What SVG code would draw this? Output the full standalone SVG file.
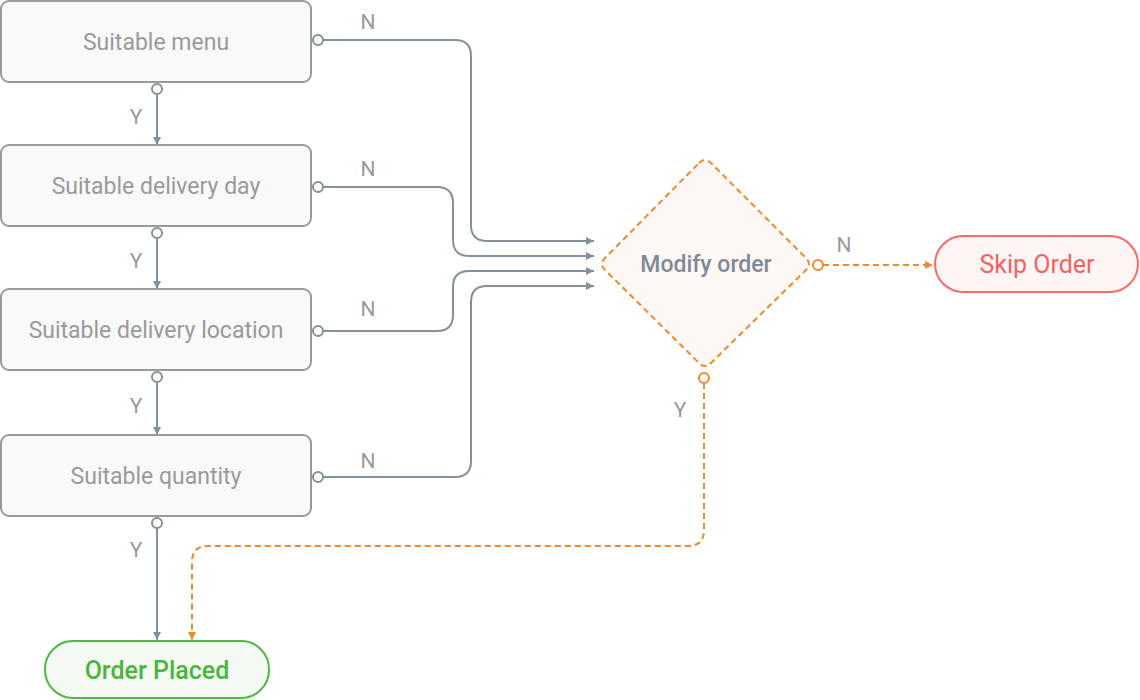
<svg xmlns="http://www.w3.org/2000/svg" width="1140" height="700" viewBox="0 0 1140 700">
<defs>
<marker id="ag" viewBox="0 0 10 10" refX="10" refY="5" markerWidth="8" markerHeight="8" markerUnits="userSpaceOnUse" orient="auto"><path d="M0,0 L10,5 L0,10 z" fill="#85909a"/></marker>
<marker id="ao" viewBox="0 0 10 10" refX="10" refY="5" markerWidth="8" markerHeight="8" markerUnits="userSpaceOnUse" orient="auto"><path d="M0,0 L10,5 L0,10 z" fill="#f0892a"/></marker>
</defs>
<style>
.box{fill:#f9f9f9;stroke:#999;stroke-width:2}
.bt{font-family:Roboto,"Liberation Sans",sans-serif;font-size:23px;font-weight:400;fill:#9a9a9a;text-anchor:middle;dominant-baseline:central}
.lbl{font-family:Roboto,"Liberation Sans",sans-serif;font-size:21px;font-weight:400;fill:#999;text-anchor:middle;dominant-baseline:central}
.c{fill:none;stroke:#85909a;stroke-width:2}
.o{fill:none;stroke:#f0892a;stroke-width:2;stroke-dasharray:6 4}
.pg{fill:#fff;stroke:#85909a;stroke-width:2}
.po{fill:#fff;stroke:#f0892a;stroke-width:2}
</style>
<g id="connectors">
<path class="c" d="M323,40 H455 Q471,40 471,56 V225 Q471,241 487,241 H594" marker-end="url(#ag)"/>
<path class="c" d="M323,187 H437 Q453,187 453,203 V240 Q453,256 469,256 H594" marker-end="url(#ag)"/>
<path class="c" d="M323,331 H437 Q453,331 453,315 V287 Q453,271 469,271 H594" marker-end="url(#ag)"/>
<path class="c" d="M323,477 H455 Q471,477 471,461 V302 Q471,286 487,286 H594" marker-end="url(#ag)"/>
<path class="c" d="M157,94 V145" marker-end="url(#ag)"/>
<path class="c" d="M157,238 V289" marker-end="url(#ag)"/>
<path class="c" d="M157,382 V435" marker-end="url(#ag)"/>
<path class="c" d="M157,528 V640" marker-end="url(#ag)"/>
<path class="o" d="M823,265 H933" marker-end="url(#ao)"/>
<path class="o" d="M704,383 V530 Q704,546 688,546 H208 Q192,546 192,562 V640" marker-end="url(#ao)"/>
<circle class="pg" cx="318" cy="40" r="5"/>
<circle class="pg" cx="318" cy="187" r="5"/>
<circle class="pg" cx="318" cy="331" r="5"/>
<circle class="pg" cx="318" cy="477" r="5"/>
<circle class="pg" cx="157" cy="89" r="5"/>
<circle class="pg" cx="157" cy="233" r="5"/>
<circle class="pg" cx="157" cy="377" r="5"/>
<circle class="pg" cx="157" cy="523" r="5"/>
<circle class="po" cx="818" cy="265" r="5"/>
<circle class="po" cx="704" cy="378" r="5"/>
<text class="lbl" x="368" y="22">N</text>
<text class="lbl" x="368" y="169">N</text>
<text class="lbl" x="368" y="309">N</text>
<text class="lbl" x="368" y="461">N</text>
<text class="lbl" x="136" y="117">Y</text>
<text class="lbl" x="136" y="261">Y</text>
<text class="lbl" x="136" y="406">Y</text>
<text class="lbl" x="136" y="550">Y</text>
<text class="lbl" x="844" y="245">N</text>
<text class="lbl" x="680" y="410">Y</text>
</g>
<g id="n-menu"><rect class="box" x="1" y="1" width="310" height="81" rx="8"/><text class="bt" x="156" y="42">Suitable menu</text></g>
<g id="n-day"><rect class="box" x="1" y="145" width="310" height="81" rx="8"/><text class="bt" x="156" y="186">Suitable delivery day</text></g>
<g id="n-location"><rect class="box" x="1" y="289" width="310" height="81" rx="8"/><text class="bt" x="156" y="330">Suitable delivery location</text></g>
<g id="n-quantity"><rect class="box" x="1" y="435" width="310" height="81" rx="8"/><text class="bt" x="156" y="476">Suitable quantity</text></g>
<g id="n-modify">
<path d="M699,163 Q705,157 711,163 L806,258 Q812,264 806,270 L711,363 Q705,369 699,363 L605,270 Q599,264 605,258 Z" fill="#fdf8f5" stroke="#f0892a" stroke-width="2" stroke-dasharray="6 4"/>
<text x="706" y="264" font-family="Roboto,'Liberation Sans',sans-serif" font-size="23" font-weight="500" fill="#7f8a94" text-anchor="middle" dominant-baseline="central">Modify order</text>
</g>
<g id="n-skip"><rect x="935" y="236" width="203" height="56" rx="28" fill="#fff5f5" stroke="#f96a6a" stroke-width="2"/><text x="1037" y="264" font-family="Roboto,'Liberation Sans',sans-serif" font-size="25" font-weight="400" fill="#f56262" text-anchor="middle" dominant-baseline="central">Skip Order</text></g>
<g id="n-placed"><rect x="45" y="641" width="224" height="57" rx="28" fill="#f4faf3" stroke="#4cb944" stroke-width="2"/><text x="157" y="670" font-family="Roboto,'Liberation Sans',sans-serif" font-size="25" font-weight="500" fill="#4ab53c" text-anchor="middle" dominant-baseline="central">Order Placed</text></g>
</svg>
